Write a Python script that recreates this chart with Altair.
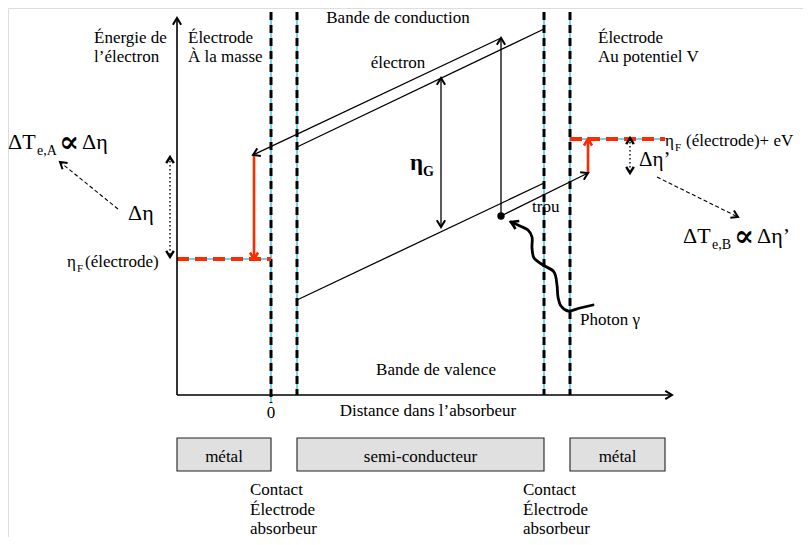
import altair as alt
import numpy as np
import pandas as pd

# ---------------- diagram data (reference pixel space) ----------------
W, H = 795, 529
XS = alt.Scale(domain=[8, 803], nice=False, zero=False)
YS = alt.Scale(domain=[537, 8], nice=False, zero=False)

energy_axis = [(177, 395, 177, 18)]
distance_axis = [(177, 395, 672, 395)]
interface_x = [271, 297, 544, 570]
interface_top = [12, 12, 12, 12]
interface_bottom = [403, 395, 395, 395]

conduction_band = [(297, 147, 544, 29)]
valence_band = [(297, 300, 544, 183)]
electron_path = [(501, 216, 501, 38), (501, 38, 253, 155)]
hole_path = [(501, 216, 588, 173)]
gap_arrow = [(441, 78, 441, 227)]
fermi_levels = [(177, 259, 271, 259), (570, 139, 665, 139)]
red_drops = [(254, 155, 254, 259), (588, 173, 588, 139)]
delta_eta_arrows = [(170, 157, 170, 257), (630, 138, 630, 173)]
pointer_arrows = [(118, 209, 60, 162), (657, 177, 738, 217)]
photon_x = [593, 580, 568, 561, 558, 557, 554, 543, 534, 532, 532, 528, 520, 511]
photon_y = [305, 308, 311, 306, 297, 285, 272, 265, 258, 248, 237, 230, 226, 222]
dot = [(501, 216)]

box_labels = ["métal", "semi-conducteur", "métal"]
box_x0 = [177, 297, 570]
box_x1 = [271, 544, 665]
box_y0, box_y1 = 438, 471

RED = "#FF2A00"
CYAN = "#3EC3EE"
FONT = "'Liberation Serif', 'Times New Roman', Times, 'DejaVu Serif', serif"
CHEVRON = "M -1 -0.62 L 0 0 L -1 0.62"


def enc_xy():
    return dict(x=alt.X("x:Q", scale=XS, axis=None), y=alt.Y("y:Q", scale=YS, axis=None))


def segs(rows, color, width, dash=None, cap="butt"):
    df = pd.DataFrame(rows, columns=["x", "y", "x2", "y2"])
    kw = dict(color=color, strokeWidth=width, strokeCap=cap)
    if dash:
        kw["strokeDash"] = dash
    return alt.Chart(df).mark_rule(**kw).encode(**enc_xy(), x2="x2:Q", y2="y2:Q")


def heads(rows, color, width, size):
    df = pd.DataFrame(rows, columns=["x", "y", "fx", "fy"])
    df["angle"] = np.degrees(np.arctan2(df.y - df.fy, df.x - df.fx)) % 360
    return alt.Chart(df).mark_point(
        shape=CHEVRON, filled=False, color=color, strokeWidth=width, size=size,
        opacity=1, strokeJoin="miter", strokeCap="butt"
    ).encode(**enc_xy(), angle=alt.Angle("angle:Q", scale=None))


def end_head(s):
    return (s[2], s[3], s[0], s[1])


def start_head(s):
    return (s[0], s[1], s[2], s[3])


def texts(rows, align="left", weight="normal"):
    df = pd.DataFrame(rows, columns=["t", "x", "y", "s"])
    return alt.Chart(df).mark_text(
        align=align, baseline="alphabetic", font=FONT, fontWeight=weight, color="black"
    ).encode(**enc_xy(), text="t:N", size=alt.Size("s:Q", scale=None))


iface_rows = [(x, t, x, b) for x, t, b in zip(interface_x, interface_top, interface_bottom)]

layers = []
layers.append(segs(iface_rows + [(r[0], r[1], r[2], r[3]) for r in fermi_levels], CYAN, 1.5))
layers.append(segs(iface_rows, "black", 3, dash=[8, 5]))
layers.append(segs(fermi_levels, RED, 4, dash=[12, 6]))
layers.append(segs(energy_axis + distance_axis, "black", 1.6))
layers.append(segs(conduction_band + valence_band + electron_path + hole_path + gap_arrow, "black", 1.3))
layers.append(segs(red_drops, RED, 2.6))
layers.append(segs(delta_eta_arrows, "black", 1.4, dash=[1.5, 2.5]))
layers.append(segs(pointer_arrows, "black", 1.1, dash=[4, 2.5]))

photon_df = pd.DataFrame({"x": photon_x, "y": photon_y, "i": range(len(photon_x))})
layers.append(
    alt.Chart(photon_df).mark_line(color="black", strokeWidth=2.8, interpolate="catmull-rom", strokeCap="round")
    .encode(**enc_xy(), order=alt.Order("i:Q"))
)

black_heads = [
    end_head(energy_axis[0]), end_head(distance_axis[0]),
    end_head(electron_path[0]), end_head(electron_path[1]), end_head(hole_path[0]),
    start_head(gap_arrow[0]), end_head(gap_arrow[0]),
]
layers.append(heads(black_heads, "black", 2.0, 180))
layers.append(heads([start_head(d) for d in delta_eta_arrows] + [end_head(d) for d in delta_eta_arrows], "black", 2.4, 150))
layers.append(heads([end_head(p) for p in pointer_arrows], "black", 2.0, 170))
layers.append(heads([(photon_x[-1], photon_y[-1], photon_x[-3], photon_y[-3])], "black", 2.6, 200))
layers.append(heads([end_head(r) for r in red_drops], RED, 2.6, 170))

layers.append(
    alt.Chart(pd.DataFrame(dot, columns=["x", "y"])).mark_point(
        filled=True, color="black", size=55, opacity=1, shape="circle"
    ).encode(**enc_xy())
)

box_df = pd.DataFrame({"x": box_x0, "x2": box_x1, "y": [box_y0] * 3, "y2": [box_y1] * 3, "t": box_labels})
layers.append(
    alt.Chart(box_df).mark_rect(fill="#E0E0E0", stroke="#222222", strokeWidth=1.1)
    .encode(**enc_xy(), x2="x2:Q", y2="y2:Q")
)

left_texts = [
    ("Énergie de", 94, 43, 17), ("l’électron", 94, 62, 17),
    ("Électrode", 188, 43, 17), ("À la masse", 188, 62, 17),
    ("Électrode", 598, 43, 17), ("Au potentiel V", 598, 62, 17),
    ("trou", 532, 212, 17), ("Photon γ", 580, 325, 17),
    ("Contact", 250, 495, 17), ("Électrode", 250, 515, 17), ("absorbeur", 250, 534, 17),
    ("Contact", 523, 495, 17), ("Électrode", 523, 515, 17), ("absorbeur", 523, 534, 17),
    ("η", 67, 267, 17), ("F", 77, 272, 11), ("(électrode)", 85, 267, 17),
    ("η", 665, 146, 17), ("F", 675, 151, 11), ("(électrode)+ eV", 686, 146, 17),
    ("ΔT", 8, 149, 22), ("e,A", 37, 155, 14), ("Δη", 82, 149, 22),
    ("Δη", 128, 220, 22), ("Δη’", 639, 166, 21),
    ("ΔT", 683, 243, 22), ("e,B", 712, 249, 14), ("Δη’", 757, 243, 22),
]
center_texts = [
    ("Bande de conduction", 398, 23, 17), ("électron", 398, 68, 17),
    ("Bande de valence", 436, 375, 17), ("Distance dans l’absorbeur", 428, 416, 17),
    ("0", 271, 418, 17),
] + [(t, (a + b) / 2, 462, 17) for t, a, b in zip(box_labels, box_x0, box_x1)]
bold_texts = [("η", 410, 170, 23), ("G", 423, 176, 14)]
prop_texts = [("∝", 69, 152, 30), ("∝", 744, 246, 30)]

layers.append(texts(left_texts, "left"))
layers.append(texts(center_texts, "center"))
layers.append(texts(bold_texts, "left", "bold"))
layers.append(texts(prop_texts, "center", "bold"))

chart = alt.layer(*layers).properties(
    width=W, height=H, padding=0, autosize=alt.AutoSizeParams(type="none")
).configure_view(stroke=None).configure(background="white")

chart.save("out.html", embed_options={"renderer": "svg", "actions": False})
